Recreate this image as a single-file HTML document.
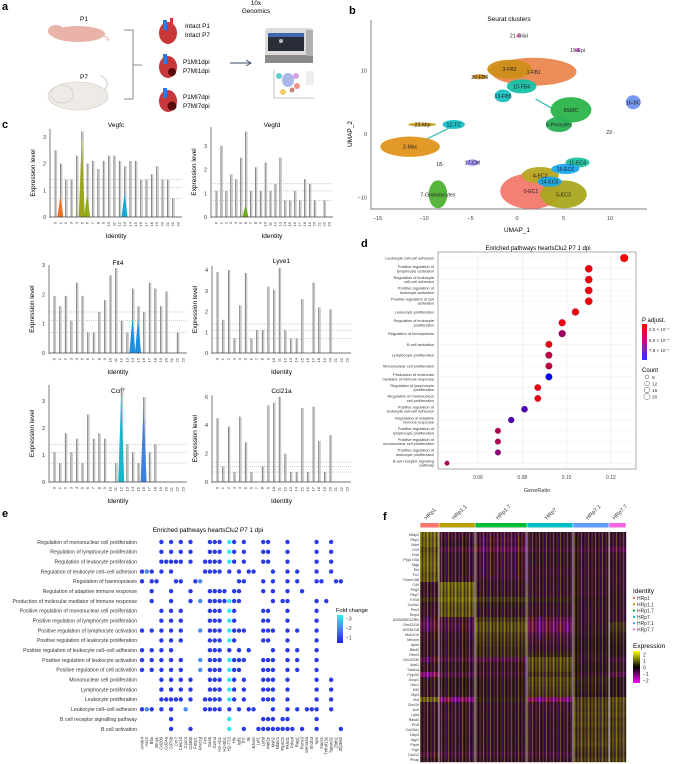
<!DOCTYPE html>
<html><head><meta charset="utf-8">
<style>
html,body{margin:0;padding:0;background:#fff;}
body{width:679px;height:764px;overflow:hidden;}
svg{display:block;font-family:"Liberation Sans",sans-serif;}
</style></head>
<body>
<svg id="fig" width="679" height="764" viewBox="0 0 679 764" xmlns="http://www.w3.org/2000/svg">
<defs>
<linearGradient id="padjGrad" x1="0" y1="0" x2="0" y2="1"><stop offset="0" stop-color="#ff0000"/><stop offset="0.5" stop-color="#c0108a"/><stop offset="1" stop-color="#3030ff"/></linearGradient>
<linearGradient id="fcGrad" x1="0" y1="0" x2="0" y2="1"><stop offset="0" stop-color="#33eef0"/><stop offset="0.5" stop-color="#4a7ef0"/><stop offset="1" stop-color="#1f1fe6"/></linearGradient>
<linearGradient id="exGrad" x1="0" y1="0" x2="0" y2="1"><stop offset="0" stop-color="#ffff00"/><stop offset="0.25" stop-color="#808000"/><stop offset="0.5" stop-color="#000000"/><stop offset="0.75" stop-color="#800080"/><stop offset="1" stop-color="#ff00ff"/></linearGradient>
<pattern id="stripes" width="7" height="5" patternUnits="userSpaceOnUse">
<rect x="0" y="0" width="1" height="5" fill="#e0e000" opacity="0.3"/>
<rect x="2" y="0" width="1.2" height="5" fill="#000" opacity="0.45"/>
<rect x="3.6" y="0" width="1" height="5" fill="#a0a000" opacity="0.22"/>
<rect x="5" y="0" width="1.3" height="5" fill="#300030" opacity="0.45"/>
</pattern>
</defs>
<g id="panelA">
<text x="2" y="10" font-size="11" font-weight="bold">a</text>
<text x="84" y="21" font-size="6.5" text-anchor="middle">P1</text>
<g><ellipse cx="78" cy="34" rx="27" ry="8" fill="#e9b3a9"/><ellipse cx="56" cy="31" rx="8" ry="6" fill="#e9b3a9"/><path d="M104 36 Q112 40 106 40" stroke="#e9b3a9" fill="none"/></g>
<text x="84" y="79" font-size="6.5" text-anchor="middle">P7</text>
<g><ellipse cx="78" cy="96" rx="30" ry="14" fill="#eeeae6" stroke="#cfc8c2" stroke-width="0.6"/><ellipse cx="62" cy="94" rx="11" ry="9" fill="#eeeae6" stroke="#cfc8c2" stroke-width="0.6"/><path d="M104 90 Q112 82 100 75" stroke="#cfc8c2" fill="none"/></g>
<path d="M124 30 H133 V99 H124 M133 65 H142" stroke="#666" stroke-width="0.8" fill="none"/>
<g>
<ellipse cx="168" cy="33" rx="9" ry="11" fill="#c8383a"/><rect x="163" y="20" width="4" height="10" fill="#2f7ad8"/><rect x="170" y="18" width="3" height="8" fill="#d23a3a"/>
<ellipse cx="168" cy="67" rx="9" ry="11" fill="#c8383a"/><rect x="163" y="54" width="4" height="10" fill="#2f7ad8"/><circle cx="172" cy="72" r="4" fill="#5a0a0a"/>
<ellipse cx="168" cy="101" rx="9" ry="11" fill="#c8383a"/><rect x="163" y="88" width="4" height="10" fill="#2f7ad8"/><circle cx="172" cy="106" r="4.5" fill="#5a0a0a"/>
</g>
<text font-size="6.3"><tspan x="185" y="28">Intact P1</tspan><tspan x="185" y="37">Intact P7</tspan></text>
<text font-size="6.3"><tspan x="183" y="64">P1MI1dpi</tspan><tspan x="183" y="73">P7MI1dpi</tspan></text>
<text font-size="6.3"><tspan x="183" y="99">P1MI7dpi</tspan><tspan x="183" y="108">P7MI7dpi</tspan></text>
<path d="M230 63 H250 M246 60 L251 63 L246 66" stroke="#3a4a6a" stroke-width="0.9" fill="none"/>
<text font-size="6.3" text-anchor="middle"><tspan x="256" y="5">10x</tspan><tspan x="256" y="13">Genomics</tspan></text>
<g><rect x="265" y="28" width="48" height="34" rx="3" fill="#dcdcdc"/><rect x="265" y="55" width="48" height="8" fill="#8a8a8a"/><rect x="268" y="33" width="36" height="18" fill="#2a2e38"/><rect x="268" y="33" width="36" height="4" fill="#3f68b0"/><circle cx="281" cy="41" r="2" fill="#bbb"/><rect x="306" y="30" width="7" height="26" fill="#b0b0b0"/></g>
<g><path d="M274 70 V98 H314" stroke="#888" stroke-width="0.5" fill="none"/><circle cx="279" cy="76" r="3" fill="#6cc"/><ellipse cx="288" cy="80" rx="6" ry="7" fill="#a8b8e8"/><circle cx="296" cy="76" r="3" fill="#d9a0e0"/><circle cx="297" cy="86" r="3" fill="#e98"/><circle cx="283" cy="92" r="3" fill="#ec6"/><circle cx="292" cy="90" r="2.5" fill="#c87"/><rect x="306" y="71" width="8" height="14" fill="#eee"/></g>
</g>
<g id="panelB"></g>
<g id="panelC"></g>
<g id="panelD"></g>
<g id="panelE"></g>
<g id="panelF"></g>
</svg>
<script>
/* ---------- data ---------- */
// panel c
const clusterIds=[0,1,2,3,4,5,6,7,8,9,10,11,12,13,14,15,16,17,18,19,20,21,22,23];
const vegfcMax=[2.5,2.0,1.4,1.4,2.3,3.2,2.0,2.1,1.8,2.1,2.3,2.3,2.1,1.9,2.1,2.1,1.4,1.4,1.6,1.9,1.4,1.4,0.7,0];
const vegfdMax=[1.1,3.0,1.1,1.8,1.6,2.5,3.6,1.1,2.1,1.1,2.3,1.1,1.4,2.5,0.7,0.7,1.1,0.7,1.6,1.4,0.7,0,0.7,0];
const flt4Max=[1.95,1.6,1.95,1.1,2.4,1.95,0.7,0.7,1.4,1.8,2.65,2.9,1.1,0.7,2.2,1.6,1.4,2.4,2.2,1.6,2.1,0,0.7,0];
const lyve1Max=[3.9,1.6,4.0,0.7,2.3,3.85,0.7,1.1,1.1,3.2,3.05,4.1,1.1,0.7,0.7,2.6,0,3.4,2.2,0,2.1,0,0,0];
const ccr7Max=[1.1,0.7,1.8,1.1,1.6,0.7,2.5,1.6,1.8,1.6,0,0.7,3.5,1.4,1.1,0.7,3.15,1.1,1.4,0,0,0,0,0];
const ccl21aMax=[4.5,1.1,3.9,0.7,4.6,2.8,0.7,0,1.1,5.4,5.6,6.0,2.0,0.7,0.7,5.2,0.7,5.3,2.9,0.7,3.3,0,0,0];
// panel d
const dPathways=["Leukocyte cell-cell adhesion","Positive regulation of|lymphocyte activation","Regulation of leukocyte|cell-cell adhesion","Positive regulation of|leukocyte activation","Positive regulation of cell|activation","Leukocyte proliferation","Regulation of leukocyte|proliferation","Regulation of hemopoiesis","B cell activation","Lymphocyte proliferation","Mononuclear cell proliferation","Production of molecular|mediator of immune response","Regulation of lymphocyte|proliferation","Regulation of mononuclear|cell proliferation","Positive regulation of|leukocyte cell-cell adhesion","Regulation of adaptive|immune response","Positive regulation of|lymphocyte proliferation","Positive regulation of|mononuclear cell proliferation","Positive regulation of|leukocyte proliferation","B cell receptor signaling|pathway"];
const dGeneRatio=[0.126,0.110,0.110,0.110,0.110,0.104,0.098,0.098,0.092,0.092,0.092,0.092,0.087,0.087,0.081,0.075,0.069,0.069,0.069,0.046];
const dPadj=[2.0e-7,2.3e-7,2.3e-7,2.3e-7,2.3e-7,2.5e-7,2.5e-7,4.5e-7,2.5e-7,3.6e-7,3.6e-7,8.5e-7,2.5e-7,2.5e-7,6.5e-7,6.5e-7,4.0e-7,4.0e-7,5.0e-7,4.0e-7];
const dCount=[22,19,19,19,19,18,17,17,16,16,16,16,15,15,14,13,12,12,12,8];
const dTicks=[0.06,0.08,0.10,0.12];
const dCountLegend=[8,12,16,20];
// panel e
const ePathways=["Regulation of mononuclear cell proliferation","Regulation of lymphocyte proliferation","Regulation of leukocyte proliferation","Regulation of leukocyte cell–cell adhesion","Regulation of haemopoiesis","Regulation of adaptive immune response","Production of molecular mediator of immune response","Positive regulation of mononuclear cell proliferation","Positive regulation of lymphocyte proliferation","Positive regulation of lymphocyte activation","Positive regulation of leukocyte proliferation","Positive regulation of leukocyte cell–cell adhesion","Positive regulation of leukocyte activation","Positive regulation of cell activation","Mononuclear cell proliferation","Lymphocyte proliferation","Leukocyte proliferation","Leukocyte cell–cell adhesion","B cell receptor signalling pathway","B cell activation"];
const eGenes=["Arrdc4","Ass1","Btla","Bmyc","Cd200","Cd24a","Cd79b","Ccr7","Clec2d","Cxcr4","Cd300","Foxp1","Fcer1g","Fcx","Gas6","Gzma","H2-Ab1","H2-Eb1","H2-T23","Hlx","Igll1","Il7r","Itk","Jchain","Lef1","Ly6d","Mef2c","Msh2","Nfatc1","Ptpn22","Pkhd1","Prkcd","Rag1","Runx3","Sema4a","Sh2b3","Spn","Socs1","Tnfrsf13c","Tspan32","Zbtb1","Zfp36l2"];
const eRows=[
[4,6,8,10,14,15,16,[18,3],19,21,25,26,30,36,39],
[4,6,8,10,14,15,16,[18,3],19,21,25,26,30,36,39],
[4,5,6,7,8,10,13,14,15,16,[18,3],19,21,25,26,30,36,39],
[0,[1,2],2,4,6,13,14,15,16,18,20,22,23,27,30,32,36,39],
[0,2,3,7,8,11,[12,2],20,21,25,27,30,32,36,37,40,41],
[2,6,10,14,15,16,17,19,20,25,27,30,33],
[2,6,10,[12,2],14,15,16,17,[18,3],19,20,27,29,30,36,38],
[4,6,8,14,15,16,[18,3],19,25,26,30,36],
[4,6,8,14,15,16,[18,3],19,25,26,30,36],
[0,2,4,6,8,[12,2],14,15,16,[18,3],19,20,21,25,26,27,30,32,36],
[4,6,8,14,15,16,[18,3],19,25,26,30,36],
[0,2,4,6,14,15,16,18,20,22,27,30,32,36],
[0,2,4,6,8,[12,2],14,15,16,[18,3],19,20,21,25,26,27,30,32,36],
[0,2,4,6,8,[12,2],14,15,16,[18,3],19,20,25,26,27,30,32,36],
[4,6,8,10,14,15,16,[18,3],19,21,25,26,27,30,36,39],
[4,6,8,10,14,15,16,[18,3],19,21,25,26,27,30,36,39],
[4,5,6,7,8,10,13,14,15,16,[18,3],19,21,25,26,27,30,36,39],
[0,[1,2],2,4,6,[9,2],13,14,15,16,18,20,22,23,27,30,32,34,35,36,39],
[6,[18,3],25,26,27,29,30,36],
[6,10,[18,3],21,24,25,26,27,28,29,30,31,33,36,41]
];
// panel f
const fGroups=["HRp1","HRp1.1","HRp1.7","HRp7","HRp7.1","HRp7.7"];
const fGroupSizes=[19,36,52,46,36,17];
const fGenes=["Mfap2","Rbp1","Ndnf","H19","Cish","Ppp1r15a","Mgp","Eln","Fn1","Tmem158","Cd9","Peg3","Rbp7","Krt18","Col4a1","Pim3","Timp4","8430408G22Rik","Gm42418","AY036118","Hist1h1e","Mecom","Aplnr","Btbd2","Rbm3","Gm10330","Acsl1","Tuba1a","Ppp4r3","Dusp1","Odc1","Klf2","Myl3","Xist","Clec2d","Ace","Ly6a","Rasa4","Pi16","Col15a1","Ltbp4","Aqp1","Ptprb","Srgn","Cxcl12","Plvap"];
const fMeans=[
[1.4,-0.4,-0.5,-0.2,-0.3,-0.2],[1.2,-0.3,-0.6,-0.3,-0.2,-0.3],[1.3,-0.2,-0.5,-0.2,-0.2,-0.3],[0.9,-0.6,-0.9,-0.4,-0.5,-0.8],[1.1,-0.3,-0.4,-0.2,-0.3,-0.3],[1.2,-0.2,-0.4,-0.1,-0.2,-0.3],[1.3,-0.3,-0.5,-0.2,-0.2,-0.2],[1.2,-0.2,-0.4,-0.3,-0.3,-0.2],[1.0,-0.3,-0.5,-0.3,-0.3,-0.3],[1.1,-0.3,-0.4,-0.2,-0.2,-0.3],
[-0.3,1.3,-0.2,-0.2,-0.3,-0.3],[-0.2,1.2,-0.3,-0.3,-0.2,-0.2],[-0.3,1.1,-0.2,-0.3,-0.3,-0.2],[0.4,1.4,0.5,0.2,-0.1,-0.1],[-0.2,1.0,0.1,-0.2,-0.2,-0.2],[-0.3,0.9,-0.2,-0.3,-0.2,-0.2],[-0.3,1.0,-0.2,-0.2,-0.2,-0.3],
[-0.6,-0.4,0.5,-0.8,-0.2,-0.3],[-0.9,-0.6,0.9,-1.1,-0.2,0.5],[-0.7,-0.5,0.9,-1.0,-0.1,0.4],[-0.4,-0.3,0.6,-0.6,-0.1,0.2],[-0.3,-0.2,0.5,-0.4,0.0,0.1],[-0.2,-0.2,0.4,-0.3,0.0,0.0],[-0.3,-0.3,0.3,-0.2,0.0,0.0],[-0.2,-0.2,0.3,0.2,-0.1,0.0],
[-0.8,-0.6,-0.7,0.9,-0.2,-0.5],[-0.3,-0.2,-0.2,0.8,0.0,-0.2],[-0.2,-0.1,-0.2,0.7,0.0,-0.1],[-1.6,-0.6,-0.4,0.4,-0.2,-0.6],[-0.2,-0.1,-0.1,0.8,0.2,0.0],[-0.1,0.0,-0.1,0.7,0.1,0.0],[-0.2,-0.1,-0.1,0.6,0.1,0.0],[-0.2,-0.1,-0.1,0.5,0.0,0.0],
[1.3,-1.5,0.2,-1.4,0.6,0.9],
[-0.2,-0.3,-0.2,-0.3,0.7,0.8],[-0.3,-0.2,-0.2,-0.3,0.6,0.7],[-0.2,-0.3,-0.1,-0.3,0.7,0.8],[-0.3,-0.3,-0.2,-0.2,0.6,0.6],[-0.2,-0.2,-0.2,-0.2,0.7,0.7],[-0.2,-0.3,-0.2,-0.2,0.5,0.6],[-0.3,-0.2,-0.2,-0.3,0.6,0.7],[-0.2,-0.2,-0.1,-0.2,0.6,0.8],[-0.3,-0.2,-0.2,-0.3,0.7,0.7],[-0.2,-0.3,-0.2,-0.2,0.5,0.6],[-0.6,-0.5,-0.4,-0.5,0.4,0.5],[-0.2,-0.2,-0.2,-0.2,0.6,0.7]
];
// panel b
const umapClusters=["0-EC1","1-FB1","2-Mac","3-FB2","4-EC2","5-EC3","7-Granulocytes","8SMC","9-Pericytes","10-FB4","11-EC4","12-TC","13-FB5","14-EC5","15-EC6","16-BC","17-CM","19-Epi","20-FB6","21-Glial","23-Mφ"];
const umapX=[1.5,1.8,-11.5,-0.8,2.5,5.0,-8.5,5.8,4.5,0.5,6.5,-6.8,-1.5,3.5,5.2,12.5,-4.8,6.5,-4.0,0.2,-10.2];
const umapY=[-9.0,9.8,-2.0,10.2,-6.5,-9.5,-9.5,3.8,1.5,7.5,-4.5,1.5,6.0,-7.5,-5.5,5.0,-4.5,13.2,9.0,15.5,1.5];
const umapRx=[3.3,4.6,3.2,2.4,2.0,2.5,1.0,2.2,1.4,1.6,1.3,1.2,0.9,1.3,1.5,0.8,0.7,0.3,0.8,0.2,1.5];
const umapRy=[2.8,2.2,1.6,1.5,1.3,2.2,2.2,2.0,1.2,1.1,0.8,0.7,1.0,0.8,0.8,1.1,0.5,0.3,0.4,0.3,0.3];
const umapColors=["#f3786c","#e9874f","#e2931c","#cf8f1a","#b8a823","#a9a81f","#4eb133","#2cb44a","#2ab35a","#17c0a8","#1fc1a0","#19bfc8","#1bbfc0","#19a9e6","#1aa6ef","#6f92ef","#9b8cf2","#e36ee8","#d39018","#f06cd8","#c9a022"];
const umapXTicks=[-15,-10,-5,0,5,10];
const umapYTicks=[-10,0,10];

/* ---------- helpers ---------- */
const NS="http://www.w3.org/2000/svg";
function mk(tag,attrs,parent){const e=document.createElementNS(NS,tag);for(const k in attrs)e.setAttribute(k,attrs[k]);parent.appendChild(e);return e;}
function tx(parent,str,x,y,size,anchor,extra){const e=mk("text",Object.assign({x:x,y:y,"font-size":size,"text-anchor":anchor||"start"},extra||{}),parent);e.textContent=str;return e;}
let el;

/* ---------- panel b ---------- */
const pB=document.getElementById("panelB");
const bx=v=>517+v*9.3, by=v=>134-v*6.35;
el=tx(pB,"b",349,14,11,"start",{"font-weight":"bold"});


el=tx(pB,"Seurat clusters",509,21,6.5,"middle");


el=mk("path",{d:"M371 20 V209 H647",stroke:"#555","stroke-width":0.7,fill:"none"},pB);


umapXTicks.forEach(t=>{
 el=tx(pB,String(t).replace("-","−"),bx(t),220,5.5,"middle",{fill:"#444"});
 
 
});
umapYTicks.forEach(t=>{
 el=tx(pB,String(t).replace("-","−"),367,by(t)+2,5.5,"end",{fill:"#444"});
 
 
});
el=tx(pB,"UMAP_1",517,232,6.5,"middle");


el=tx(pB,"UMAP_2",352,134,6.5,"middle",{transform:"rotate(-90 352 134)"});


el=mk("path",{d:`M${bx(-10)} ${by(-1)} L${bx(-6.5)} ${by(1.5)} M${bx(2)} ${by(5.5)} L${bx(5)} ${by(3)} M${bx(5)} ${by(-6)} L${bx(7.5)} ${by(-4)}`,stroke:"#2fbfb0","stroke-width":1.2,fill:"none"},pB);


umapClusters.forEach((c,i)=>{
 el=mk("ellipse",{cx:bx(umapX[i]),cy:by(umapY[i]),rx:umapRx[i]*9.3,ry:umapRy[i]*6.35,fill:umapColors[i],opacity:0.95},pB);
 
 
});
umapClusters.forEach((c,i)=>{
 el=tx(pB,c,bx(umapX[i]),by(umapY[i])+2,5.2,"middle",{fill:"#222"});
 
 
});
el=tx(pB,"22-",610,134,5.2,"middle",{fill:"#222"});


el=tx(pB,"18-",440,166,5.2,"middle",{fill:"#222"});



/* ---------- panel c ---------- */
const pC=document.getElementById("panelC");
el=tx(pC,"c",2,128,11,"start",{"font-weight":"bold"});


const violins=[
 {name:"Vegfc",vals:vegfcMax,x0:55,dx:5.35,y0:217,ppu:26.7,ticks:[0,1,2,3],top:3.3,ty:127,marks:[[1,"#e8742a",0.8],[5,"#9aa51c",3.0],[6,"#8fae1c",0.9],[13,"#1ba6d8",0.9]]},
 {name:"Vegfd",vals:vegfdMax,x0:216,dx:4.91,y0:217,ppu:23.7,ticks:[0,1,2,3],top:3.8,ty:127,marks:[[6,"#6faa1a",0.5]]},
 {name:"Flt4",vals:flt4Max,x0:54,dx:5.6,y0:353,ppu:29.3,ticks:[0,1,2,3],top:3.0,ty:265,marks:[[14,"#1d8fe0",1.2],[15,"#1d8fe0",1.2]]},
 {name:"Lyve1",vals:lyve1Max,x0:217,dx:5.65,y0:353,ppu:20.75,ticks:[0,1,2,3,4],top:4.2,ty:263,marks:[]},
 {name:"Ccr7",vals:ccr7Max,x0:54,dx:5.6,y0:482,ppu:27,ticks:[0,1,2,3],top:3.6,ty:393,marks:[[12,"#18b8cc",3.3],[16,"#3f7fe0",2.9]]},
 {name:"Ccl21a",vals:ccl21aMax,x0:217,dx:5.65,y0:482,ppu:14.2,ticks:[0,2,4,6],top:6.1,ty:393,marks:[]}
];
violins.forEach(v=>{
 const g=mk("g",{},pC);
 
 
 const X=i=>v.x0+i*v.dx, Y=val=>v.y0-val*v.ppu;
 const xl=v.x0-5, xr=X(23)+4;
 el=tx(g,v.name,(xl+xr)/2,v.ty,6.5,"middle");
 
 
 [0.7,1.1,1.4].forEach(l=>{
  el=mk("line",{x1:xl,x2:xr,y1:Y(l),y2:Y(l),stroke:"#999","stroke-width":0.5,"stroke-dasharray":"1 1"},g);
  
  
 });
 clusterIds.forEach(i=>{
  const val=v.vals[i];
  if(val>0){
   el=mk("rect",{x:X(i)+0.3,y:Y(val),width:1.8,height:val*v.ppu,fill:"#c9c9c9"},g);
   
   
   el=mk("line",{x1:X(i),x2:X(i),y1:v.y0,y2:Y(val),stroke:"#555","stroke-width":0.6},g);
   
   
  }
  el=tx(g,String(i),X(i)+1.5,v.y0+5,4,"end",{transform:`rotate(-90 ${X(i)+1.5} ${v.y0+5})`,fill:"#333"});
  
  
 });
 v.marks.forEach(m=>{
  const [ci,col,h]=m; const cx=X(ci);
  el=mk("path",{d:`M${cx-3} ${v.y0} L${cx} ${Y(h)} L${cx+3} ${v.y0} Z`,fill:col},g);
  
  
 });
 el=mk("path",{d:`M${xl} ${Y(v.top)} V${v.y0+1} M${xl} ${v.y0} H${xr}`,stroke:"#444","stroke-width":0.7,fill:"none"},g);
 
 
 v.ticks.forEach(t=>{
  el=tx(g,String(t),xl-4,Y(t)+2,5.5,"end",{fill:"#333"});
  
  
 });
 el=tx(g,"Expression level",xl-15,Y(v.top/2),6.5,"middle",{transform:`rotate(-90 ${xl-15} ${Y(v.top/2)})`});
 
 
 el=tx(g,"Identity",(xl+xr)/2,v.y0+21,6.5,"middle");
 
 
});

/* ---------- panel d ---------- */
const pD=document.getElementById("panelD");
const dx=v=>478+(v-0.06)/0.02*44.3, dy=i=>258+i*10.8;
const padjCol=p=>{const t=Math.max(0,Math.min(1,(p-2e-7)/(8.5e-7-2e-7)));return `rgb(${Math.round(255*(1-t))},0,${Math.round(255*t)})`;};
const dR=c=>Math.sqrt(c)*0.85;
el=tx(pD,"d",361,247,11,"start",{"font-weight":"bold"});


el=tx(pD,"Enriched pathways heartsClu2 P7 1 dpi",538,250,6,"middle");


el=mk("rect",{x:438,y:252,width:198,height:217,fill:"#fff",stroke:"#777","stroke-width":0.6},pD);


dTicks.forEach(t=>{
 el=mk("line",{x1:dx(t),x2:dx(t),y1:252,y2:469,stroke:"#e6e6e6","stroke-width":0.5},pD);
 
 
 el=tx(pD,t.toFixed(2),dx(t),479,5,"middle",{fill:"#444"});
 
 
});
el=tx(pD,"GeneRatio",537,492,5.5,"middle",{fill:"#333"});


dPathways.forEach((p,i)=>{
 el=mk("line",{x1:438,x2:636,y1:dy(i),y2:dy(i),stroke:"#efefef","stroke-width":0.5},pD);
 
 
 const parts=p.split("|");
 const t=mk("text",{"font-size":3.9,"text-anchor":"end",fill:"#333"},pD);
 
 
 parts.forEach((s,k)=>{const ts=mk("tspan",{x:434,y:dy(i)+1.4+(k-(parts.length-1)/2)*4.2},t);ts.textContent=s;});
 el=mk("circle",{cx:dx(dGeneRatio[i]),cy:dy(i),r:dR(dCount[i]),fill:padjCol(dPadj[i]),stroke:"#555","stroke-width":0.2},pD);
 
 
});
el=tx(pD,"P adjust.",642,322,6,"start");


el=mk("rect",{x:642,y:324,width:5,height:36,fill:"url(#padjGrad)"},pD);


[["2.5 × 10⁻⁷",331],["5.0 × 10⁻⁷",342],["7.5 × 10⁻⁷",352]].forEach(l=>{
 el=tx(pD,l[0],649,l[1],4.5,"start",{fill:"#333"});
 
 
});
el=tx(pD,"Count",642,372,6,"start");


dCountLegend.forEach((c,k)=>{
 el=mk("circle",{cx:647,cy:377+k*6.5,r:dR(c)*0.8,fill:"none",stroke:"#555","stroke-width":0.5},pD);
 
 
 el=tx(pD,String(c),652,379+k*6.5,4.8,"start",{fill:"#333"});
 
 
});

/* ---------- panel e ---------- */
const pE=document.getElementById("panelE");
const ex=k=>142+k*4.85, ey=i=>542+i*9.84;
const fcCol={1:"#2a3ae6",2:"#4a8cf0",3:"#33e6f2"};
el=tx(pE,"e",2,517,11,"start",{"font-weight":"bold"});


el=tx(pE,"Enriched pathways heartsClu2 P7 1 dpi",208,532,6.3,"middle");


ePathways.forEach((p,i)=>{
 el=tx(pE,p,137,ey(i)+1.8,5.2,"end",{fill:"#333"});
 
 
 eRows[i].forEach(c=>{
  const k=Array.isArray(c)?c[0]:c, f=Array.isArray(c)?c[1]:1;
  el=mk("circle",{cx:ex(k),cy:ey(i),r:2.2,fill:fcCol[f]},pE);
  
  
 });
});
eGenes.forEach((g,k)=>{
 el=tx(pE,g,ex(k)+1.3,737,4.3,"end",{transform:`rotate(-90 ${ex(k)+1.3} 737)`,fill:"#333"});
 
 
});
el=tx(pE,"Fold change",336,612,5.8,"start");


el=mk("rect",{x:337,y:615,width:6,height:28,fill:"url(#fcGrad)"},pE);


[["−3",619],["−2",628.5],["−1",638]].forEach(l=>{
 el=tx(pE,l[0],346,l[1]+1.5,5,"start",{fill:"#333"});
 
 
});

/* ---------- panel f ---------- */
const pF=document.getElementById("panelF");
const fX0=420,fX1=626,fY0=532,fY1=762;
const total=fGroupSizes.reduce((a,b)=>a+b,0);
const groupColors=["#f8766d","#b79f00","#00ba38","#00bfc4","#619cff","#f564e3"];
const exCol=v=>{const t=Math.max(-2,Math.min(2,v));
 if(t>=0){const a=Math.min(1,t/2.6);return `rgb(${Math.round(45+150*a)},${Math.round(22+173*a)},${Math.round(40*(1-a))})`;}
 const a=Math.min(1,-t/2.4);return `rgb(${Math.round(45+170*a)},${Math.round(22*(1-a))},${Math.round(40+170*a)})`;};
el=tx(pF,"f",383,520,11,"start",{"font-weight":"bold"});


const rowH=(fY1-fY0)/fGenes.length;
let cum=0; const gx=[];
fGroupSizes.forEach(s=>{gx.push(fX0+cum/total*(fX1-fX0));cum+=s;}); gx.push(fX1);
fGroups.forEach((g,j)=>{
 el=mk("rect",{x:gx[j]+0.3,y:523,width:gx[j+1]-gx[j]-0.6,height:4.5,fill:groupColors[j]},pF);
 
 
 const cx=(gx[j]+gx[j+1])/2;
 el=tx(pF,g,cx-3,520,5.5,"start",{transform:`rotate(-45 ${cx-3} 520)`,fill:"#333"});
 
 
});
fGenes.forEach((gname,i)=>{
 const y=fY0+i*rowH;
 fGroups.forEach((g,j)=>{
  el=mk("rect",{x:gx[j],y:y,width:gx[j+1]-gx[j]+0.2,height:rowH+0.2,fill:exCol(fMeans[i][j])},pF);
  
  
 });
 el=tx(pF,gname,419,y+rowH*0.75,3.6,"end",{fill:"#333"});
 
 
});
el=mk("rect",{x:fX0,y:fY0,width:fX1-fX0,height:fY1-fY0,fill:"url(#stripes)"},pF);


gx.slice(1,-1).forEach(x=>{
 el=mk("line",{x1:x,x2:x,y1:fY0,y2:fY1,stroke:"#ddd","stroke-width":0.8},pF);
 
 
});
el=tx(pF,"Identity",633,593,6.5,"start");


fGroups.forEach((g,j)=>{
 el=mk("rect",{x:633,y:597+j*6.3,width:2,height:2,fill:groupColors[j]},pF);
 
 
 el=tx(pF,g,637,600+j*6.3,5,"start",{fill:"#333"});
 
 
});
el=tx(pF,"Expression",633,648,6.5,"start");


el=mk("rect",{x:633,y:651,width:7,height:32,fill:"url(#exGrad)"},pF);


[["2",655],["1",661.5],["0",668],["−1",674.5],["−2",681]].forEach(l=>{
 el=tx(pF,l[0],643,l[1]+1.5,5,"start",{fill:"#333"});
 
 
});
</script>
</body></html>
